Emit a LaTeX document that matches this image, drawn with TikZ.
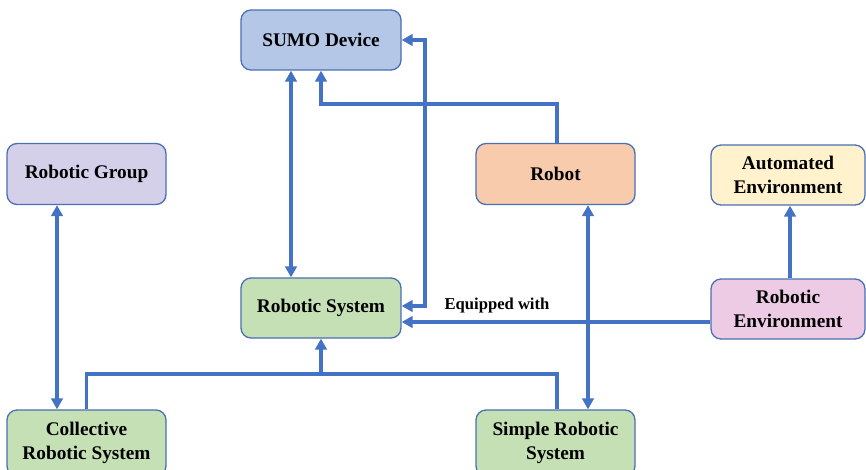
\documentclass[tikz,border=0pt]{standalone}
\usepackage{fontspec}
\setmainfont{Liberation Serif}
\usetikzlibrary{arrows.meta}
\definecolor{lineblue}{HTML}{4472C4}
\definecolor{edgeblue}{HTML}{4A6FB5}
\definecolor{cSumo}{HTML}{B4C7E7}
\definecolor{cGroup}{HTML}{D5D0EA}
\definecolor{cRobot}{HTML}{F8CBAD}
\definecolor{cAuto}{HTML}{FFF2CC}
\definecolor{cSys}{HTML}{C5E0B4}
\definecolor{cEnv}{HTML}{EDCBE4}
\begin{document}
\begin{tikzpicture}[x=1pt,y=-1pt,
  box/.style={draw=edgeblue,line width=1.3pt,rounded corners=10pt,
    minimum width=159pt,minimum height=61pt,inner sep=0pt,align=center,
    font=\bfseries\fontsize{19.3}{24}\selectfont},
  conn/.style={draw=lineblue,line width=3.4pt},
  tip/.style={-{Triangle[length=11pt,width=11.5pt]}},
  tips/.style={{Triangle[length=11pt,width=11.5pt]}-{Triangle[length=11pt,width=11.5pt]}},
  lbl/.style={font=\bfseries\fontsize{16.6}{20}\selectfont,inner sep=0pt}]
\useasboundingbox (0,0) rectangle (866,469);
\node[box,fill=cSumo,minimum width=160pt,minimum height=60pt] (sumo) at (321,40) {SUMO Device};
\node[box,fill=cGroup] (group) at (86.5,174) {Robotic Group};
\node[box,fill=cRobot] (robot) at (555.5,174) {Robot};
\node[box,fill=cAuto,minimum width=154pt,minimum height=60pt] (auto) at (788,175) {Automated\\Environment};
\node[box,fill=cSys,minimum width=160pt,minimum height=60pt] (sys) at (321,308) {Robotic System};
\node[box,fill=cEnv,minimum width=154pt,minimum height=60pt] (env) at (788,309) {Robotic\\Environment};
\node[box,fill=cSys,minimum height=66pt] (coll) at (86.5,443) {Collective\\Robotic System};
\node[box,fill=cSys,minimum height=66pt] (simple) at (555.5,443) {Simple Robotic\\System};
% connectors
\draw[conn,tips] ([xshift=-30pt]sumo.south) -- ([xshift=-30pt]sys.north);
\draw[conn,tip] ([xshift=1.5pt]robot.north) -- ([xshift=1.5pt]robot.north |- 0,104) -| (sumo.south);
\draw[conn,tips] (sumo.east) -- (425,40) |- ([yshift=2pt]sys.east);
\draw[conn,tip] ([yshift=-13pt]env.west) -- ([yshift=-13pt]env.west -| sys.east);
\node[lbl] (eq) at (497,305) {Equipped with};
\draw[conn,tip] ([xshift=2pt]env.north) -- ([xshift=2pt]auto.south);
\draw[conn,tips] ([xshift=-29.5pt]group.south) -- ([xshift=-29.5pt]coll.north);
\draw[conn] (coll.north) -- (coll.north |- 0,374) -| ([xshift=1.5pt]simple.north);
\draw[conn,tip] (sys.south |- 0,374) -- (sys.south);
\draw[conn,tips] ([xshift=32.5pt]robot.south) -- ([xshift=32.5pt]simple.north);
\end{tikzpicture}
\end{document}
